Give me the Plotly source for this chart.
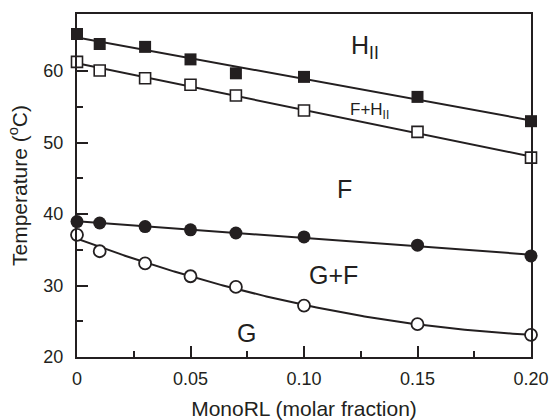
import numpy as np
import plotly.graph_objects as go

# Data
mono_rl = [0.0, 0.01, 0.03, 0.05, 0.07, 0.10, 0.15, 0.20]
t_hii = [65.2, 63.8, 63.4, 61.65, 59.7, 59.2, 56.4, 53.0]      # filled squares
t_f_hii = [61.3, 60.1, 59.0, 58.1, 56.6, 54.5, 51.5, 47.9]     # open squares
t_f = [38.95, 38.75, 38.25, 37.8, 37.35, 36.8, 35.65, 34.15]   # filled circles
t_g = [37.1, 34.8, 33.1, 31.3, 29.8, 27.2, 24.6, 23.1]        # open circles

x_tickvals = [0, 0.05, 0.10, 0.15, 0.20]
x_ticktext = ["0", "0.05", "0.10", "0.15", "0.20"]
y_tickvals = [20, 30, 40, 50, 60]

labels = [
    ("H<sub>II</sub>", 0.1267, 63.4, 25),
    ("F+H<sub>II</sub>", 0.1289, 54.4, 17),
    ("F", 0.1178, 43.5, 25),
    ("G+F", 0.1132, 31.5, 25),
    ("G", 0.0748, 23.4, 25),
]

FONT = "Liberation Sans, Arial, sans-serif"
INK = "#231f20"

xs = np.linspace(0, 0.2, 200)

def fit(y, deg):
    c = np.polyfit(mono_rl, y, deg)
    return np.polyval(c, xs)

fig = go.Figure()

series = [
    (t_hii, 1, "square", 12, 0),
    (t_f_hii, 1, "square-open", 11, 1.6),
    (t_f, 1, "circle", 13, 0),
    (t_g, 2, "circle-open", 12, 1.8),
]

for y, deg, sym, size, lw in series:
    fig.add_trace(go.Scatter(x=xs, y=fit(y, deg), mode="lines",
                             line=dict(color=INK, width=2),
                             hoverinfo="skip", showlegend=False, cliponaxis=False))

for y, deg, sym, size, lw in series:
    is_open = "open" in sym
    fig.add_trace(go.Scatter(
        x=mono_rl, y=y, mode="markers", showlegend=False, cliponaxis=False,
        marker=dict(symbol=sym.replace("-open", ""), size=size,
                    color="white" if is_open else INK,
                    line=dict(color=INK, width=lw))))

for text, x, y, size in labels:
    fig.add_annotation(x=x, y=y, text=text, showarrow=False,
                       font=dict(family=FONT, size=size, color=INK),
                       xanchor="center", yanchor="middle")

axis_common = dict(
    showline=True, linecolor=INK, linewidth=2, mirror=True,
    ticks="inside", ticklen=11, tickwidth=2, tickcolor=INK,
    showgrid=False, zeroline=False, automargin=False,
    tickfont=dict(family=FONT, size=18, color=INK),
    title_font=dict(family=FONT, size=21, color=INK),
)

fig.update_xaxes(
    range=[0, 0.2], tickvals=x_tickvals, ticktext=x_ticktext,
    minor=dict(ticks="inside", ticklen=6, tickwidth=2, tickcolor=INK, dtick=0.025, tick0=0),
    title_text="MonoRL (molar fraction)", title_standoff=14,
    ticklabelstandoff=4,
    **axis_common)
fig.update_yaxes(
    range=[20, 68], tickvals=y_tickvals,
    minor=dict(ticks="inside", ticklen=6, tickwidth=2, tickcolor=INK, dtick=5, tick0=20),
    title_text="Temperature (<sup>o</sup>C)", title_standoff=10,
    ticklabelstandoff=8,
    **axis_common)

fig.update_layout(
    width=550, height=420,
    margin=dict(l=77, r=19, t=14, b=63, autoexpand=False),
    paper_bgcolor="white", plot_bgcolor="white",
    font=dict(family=FONT, color=INK),
)

fig.write_html("out.html")
